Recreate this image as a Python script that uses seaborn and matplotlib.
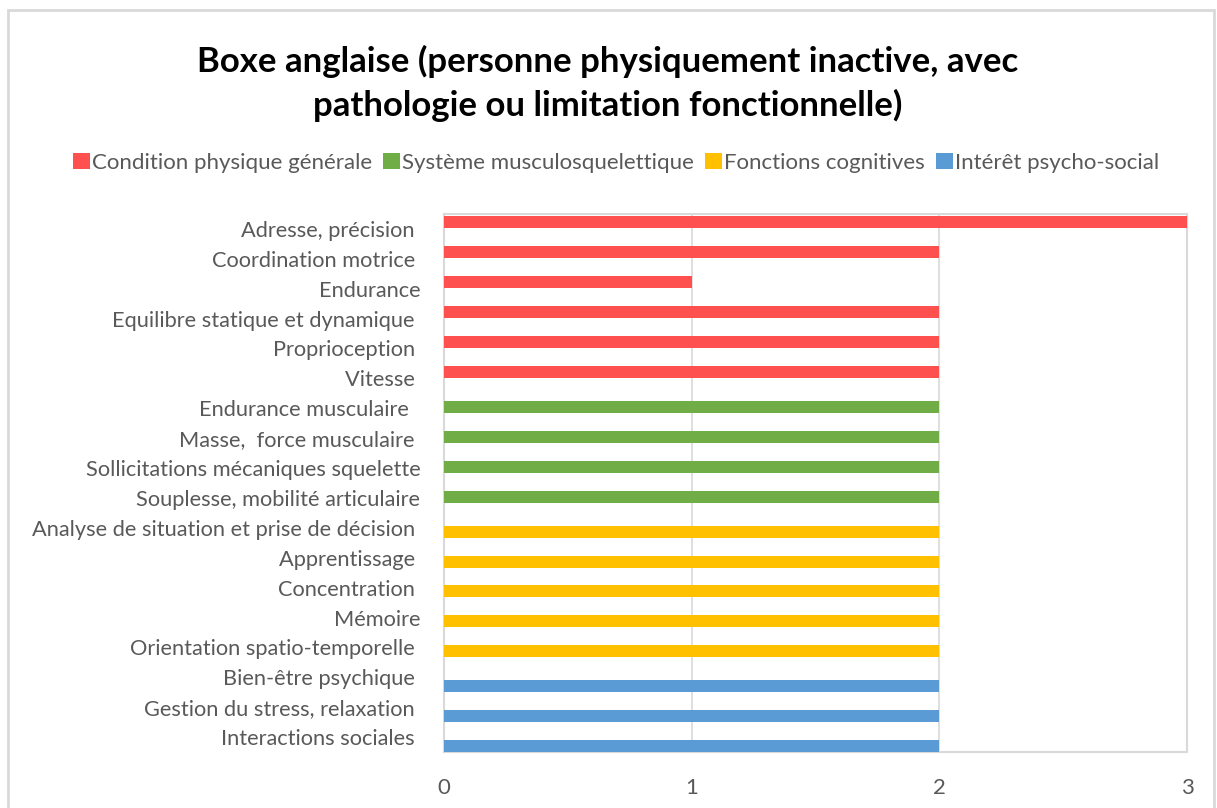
import matplotlib
matplotlib.use('Agg')
import matplotlib.pyplot as plt
import seaborn as sns
import pandas as pd
from matplotlib.patches import Rectangle, Patch

categories = [
    "Adresse, précision ", "Coordination motrice ", "Endurance",
    "Equilibre statique et dynamique ", "Proprioception ", "Vitesse ",
    "Endurance musculaire  ", "Masse,  force musculaire ",
    "Sollicitations mécaniques squelette", "Souplesse, mobilité articulaire",
    "Analyse de situation et prise de décision ", "Apprentissage ",
    "Concentration ", "Mémoire", "Orientation spatio-temporelle ",
    "Bien-être psychique ", "Gestion du stress, relaxation ", "Interactions sociales ",
]
values = [3, 2, 1, 2, 2, 2, 2, 2, 2, 2, 2, 2, 2, 2, 2, 2, 2, 2]
group_names = ["Condition physique générale", "Système musculosquelettique",
               "Fonctions cognitives", "Intérêt psycho-social"]
groups = [group_names[0]] * 6 + [group_names[1]] * 4 + [group_names[2]] * 5 + [group_names[3]] * 3
colors = ["#FF5050", "#70AD47", "#FFC000", "#5B9BD5"]
x_ticks = [0, 1, 2, 3]
title_lines = ["Boxe anglaise (personne physiquement inactive, avec",
               "pathologie ou limitation fonctionnelle)"]

sns.set_theme(style="white")
plt.rcParams['font.family'] = ['Lato', 'DejaVu Sans']

W, H = 1217, 808
fig = plt.figure(figsize=(W / 100, H / 100), dpi=100)
ax = fig.add_axes([444 / W, 1 - 752 / H, (1187 - 444) / W, (752 - 214) / H])

df = pd.DataFrame({"cat": categories, "val": values, "grp": groups})
sns.barplot(data=df, x="val", y="cat", hue="grp", hue_order=group_names,
            order=categories, palette=colors, orient="h", dodge=True,
            width=0.7, linewidth=0, saturation=1, ax=ax, legend=False,
            errorbar=None)

for p in ax.patches:
    c = p.get_y() + p.get_height() / 2
    p.set_height(0.4)
    p.set_y(c - 0.2 + 0.04)
    p.set_zorder(3)

ax.set_xlim(0, 3)
ax.set_xticks(x_ticks)
ax.set_xticklabels([str(t) for t in x_ticks])
ax.set_xlabel("")
ax.set_ylabel("")
ax.grid(axis="x", color="#D9D9D9", linewidth=1.2, zorder=0)
ax.set_axisbelow(True)
for s in ax.spines.values():
    s.set_visible(True)
    s.set_color("#D9D9D9")
    s.set_linewidth(1.5)
ax.tick_params(axis="both", length=0, colors="#595959", labelsize=16)
ax.tick_params(axis="y", labelsize=15.7)
ax.tick_params(axis="x", pad=19)
ax.tick_params(axis="y", pad=17)

for txt, yc in zip(title_lines, [61, 105]):
    fig.text(608 / W, 1 - yc / H, txt, ha="center", va="center", fontsize=25,
             fontweight="bold", color="black")

handles = [Patch(facecolor=c, edgecolor="none") for c in colors]
fig.legend(handles, group_names, loc="center", bbox_to_anchor=(616 / W, 1 - 163 / H),
           ncol=4, frameon=False, fontsize=16, labelcolor="#595959",
           handlelength=0.75, handleheight=0.75, handletextpad=0.1,
           columnspacing=0.5)

fig.add_artist(Rectangle((7.5 / W, -0.05), (1214 - 7.5) / W, 1.05 - 9.5 / H,
                         transform=fig.transFigure, fill=False,
                         edgecolor="#D9D9D9", linewidth=2))

fig.savefig("out.png", dpi=100, facecolor="white")
